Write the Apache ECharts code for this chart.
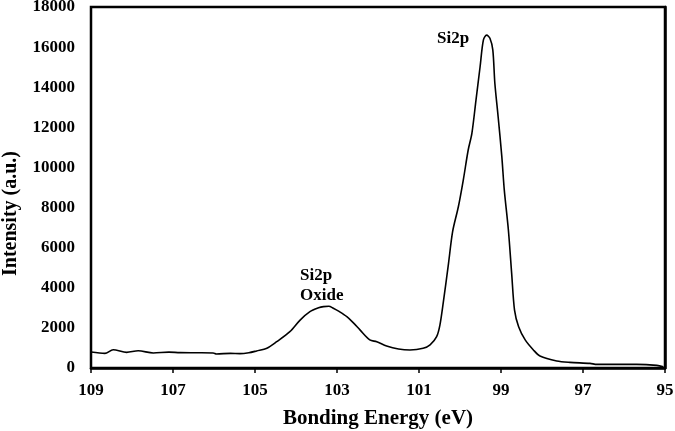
<!DOCTYPE html>
<html><head><meta charset="utf-8">
<script src="https://cdn.jsdelivr.net/npm/echarts@6/dist/echarts.min.js"></script>
<style>html,body{margin:0;padding:0;background:#fff}#c{width:675px;height:431px}</style>
</head><body><div id="c"></div>
<script>
// Binding energy (eV) and intensity (a.u.)
var energy = [109.0,108.66,108.46,108.13,107.85,107.48,107.1,106.83,106.4,106.02,105.94,105.6,105.37,105.15,104.96,104.71,104.47,104.15,103.9,103.66,103.45,103.33,103.2,103.09,102.95,102.76,102.6,102.44,102.2,102.03,101.79,101.5,101.22,100.9,100.73,100.57,100.49,100.41,100.28,100.18,100.04,99.92,99.8,99.71,99.61,99.51,99.43,99.35,99.27,99.2,99.15,99.07,98.98,98.92,98.82,98.74,98.67,98.57,98.41,98.21,98.05,97.64,97.32,96.83,96.66,95.69,95.2,95.04];
var intensity = [800,730,910,780,860,750,790,765,760,750,700,730,715,760,850,980,1310,1810,2390,2810,3000,3060,3080,2980,2820,2560,2250,1900,1400,1310,1100,950,900,980,1150,1560,2140,3230,5220,6800,8040,9370,10870,11700,13360,15020,16350,16600,16440,15860,14200,12530,10540,8880,6880,4720,2890,2060,1400,900,600,350,280,230,180,180,130,60];
var xTicks = [109,107,105,103,101,99,97,95];
var yTicks = [0,2000,4000,6000,8000,10000,12000,14000,16000,18000];
var xBase = 95; // axis offset so ticks fall on odd energies
var labels = [{text:'Si2p', e:100.17, i:16400, align:'center'},{text:'Si2p\nOxide', e:103.9, i:4100, align:'left'}];

var chart = echarts.init(document.getElementById('c'));
var font = '"Liberation Serif","Times New Roman",serif';
chart.setOption({
  animation:false,
  grid:{left:91,right:10,top:7,bottom:63,outerBoundsMode:'none',containLabel:false,show:true,borderColor:'#000',borderWidth:2.5,backgroundColor:'transparent'},
  xAxis:{type:'value',min:0,max:xTicks[0]-xBase,interval:2,inverse:true,
    name:'Bonding Energy (eV)',nameLocation:'middle',nameGap:40,
    nameTextStyle:{fontFamily:font,fontWeight:'bold',fontSize:21,color:'#000'},
    axisLine:{show:true,onZero:false,lineStyle:{color:'#000',width:2.5}},
    axisTick:{show:true,length:5,lineStyle:{color:'#000',width:1.5}},
    axisLabel:{fontFamily:font,fontWeight:'bold',fontSize:17,color:'#000',margin:14,
      formatter:function(v){return String(v+xBase);}},
    splitLine:{show:false}},
  yAxis:{type:'value',min:yTicks[0],max:yTicks[yTicks.length-1],interval:2000,
    name:'Intensity (a.u.)',nameLocation:'middle',nameGap:70,
    nameTextStyle:{fontFamily:font,fontWeight:'bold',fontSize:20,color:'#000',padding:[0,52,0,0]},
    axisLine:{show:true,lineStyle:{color:'#000',width:2.5}},
    axisTick:{show:false},
    axisLabel:{fontFamily:font,fontWeight:'bold',fontSize:17,color:'#000',margin:16,
      formatter:function(v){return String(v);}},
    splitLine:{show:false}},
  series:[{type:'line',symbol:'none',smooth:0.3,
    lineStyle:{color:'#000',width:1.6},
    data:energy.map(function(e,k){return [e-xBase,intensity[k]];}),
    markPoint:{symbol:'circle',symbolSize:0,
      data:labels.map(function(l){return {name:l.text,coord:[l.e-xBase,l.i],value:0,
        label:{show:true,position:'inside',align:l.align,verticalAlign:'middle',fontFamily:font,fontWeight:'bold',fontSize:17,color:'#000',lineHeight:20,
          formatter:function(p){return p.name;}}};})}
  }]
});
</script></body></html>
